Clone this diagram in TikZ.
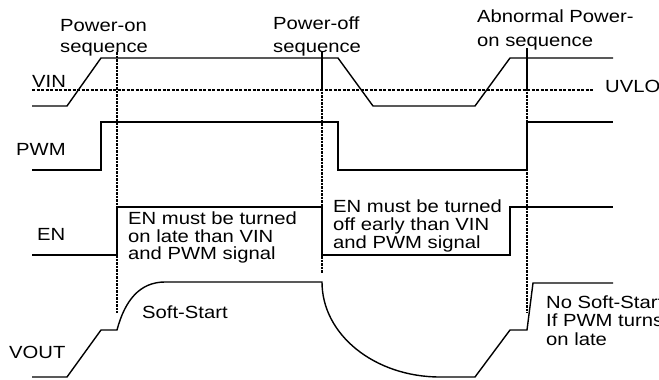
\documentclass[tikz,border=0pt]{standalone}
\usepackage{fontspec}
\setmainfont{Liberation Sans}[FakeStretch=1.15]
\begin{document}
\begin{tikzpicture}[x=1pt,y=-1pt,
  sig/.style={line width=1.4pt, line join=miter},
  markline/.style={line width=2.2pt, dash pattern=on 2.5pt off 1pt},
  markhead/.style={line width=2.2pt},
  uvlo/.style={line width=1.9pt, dash pattern=on 3pt off 1.5pt},
  lbl/.style={anchor=base west, inner sep=0pt, font=\fontsize{17.6}{20}\selectfont}]
\useasboundingbox (0,0) rectangle (659,380);
% threshold
\draw[uvlo] (32,90) coordinate (u0) -- (593,90) coordinate (u1);
% marker lines
\draw[markline] (117,52) coordinate (m1t) -- (117,313) coordinate (m1b);
\draw[markhead] (322,52) coordinate (m2t) -- (322,88);
\draw[markline] (322,88) -- (322,273) coordinate (m2b);
\draw[markhead] (527,48) coordinate (m3t) -- (527,88);
\draw[markline] (527,88) -- (527,313) coordinate (m3b);
% VIN
\draw[sig] (32,106) -- (67,106) -- (101,58) -- (338,58) -- (373,106) -- (475,106) -- (510,58) -- (613,58);
% PWM
\draw[sig] (32,170) -- (101,170) -- (101,122) -- (338,122) -- (338,170) -- (527,170) -- (527,122) -- (613,122);
% EN
\draw[sig] (32,255) -- (117,255) -- (117,207) -- (322,207) -- (322,255) -- (510,255) -- (510,207) -- (613,207);
% VOUT
\draw[sig] (32,377) -- (67,377) -- (101,330) -- (117,330)
  .. controls (125,300) and (140,282) .. (165,282) -- (322,282)
  .. controls (322,335) and (375,377) .. (440,377) -- (475,377) -- (510,330) -- (527,330) -- (533,283) -- (613,283);
% labels
\node[lbl] (t1a) at (60,31) {Power-on};
\node[lbl] (t1b) at (60,52) {sequence};
\node[lbl] (t2a) at (273,30) {Power-off};
\node[lbl] (t2b) at (273,52) {sequence};
\node[lbl] (t3a) at (477,23) {Abnormal Power-};
\node[lbl] (t3b) at (477,46) {on sequence};
\node[lbl] (vin) at (32,87) {VIN};
\node[lbl] (uv) at (605,92) {UVLO};
\node[lbl] (pwm) at (16,155) {PWM};
\node[lbl] (en) at (37,240) {EN};
\node[lbl] (vout) at (9,358) {VOUT};
\node[lbl] (e1a) at (128,224) {EN must be turned};
\node[lbl] (e1b) at (128,242) {on late than VIN};
\node[lbl] (e1c) at (128,259) {and PWM signal};
\node[lbl] (e2a) at (333,212) {EN must be turned};
\node[lbl] (e2b) at (333,230) {off early than VIN};
\node[lbl] (e2c) at (333,248) {and PWM signal};
\node[lbl] (ss) at (142,318) {Soft-Start};
\node[lbl] (n1) at (546,308) {No Soft-Start};
\node[lbl] (n2) at (546,326) {If PWM turns};
\node[lbl] (n3) at (546,345) {on late};
\end{tikzpicture}
\end{document}
